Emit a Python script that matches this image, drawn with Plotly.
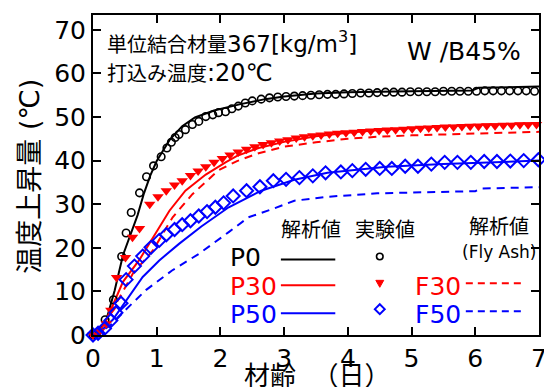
import plotly.graph_objects as go

# ---------------- data ----------------
t_p0_calc = [0, 0.1, 0.21, 0.34, 0.47, 0.6, 0.7, 0.8, 0.9, 1.0, 1.2, 1.4, 1.6, 1.9, 2.3, 2.7, 3.0, 3.5, 4.0, 5.0, 5.95, 6.05, 7.0]
p0_calc = [0, 1.0, 3.5, 10.2, 18.3, 23.4, 27.5, 32.5, 36.6, 39.9, 44.7, 47.9, 49.9, 51.5, 52.9, 54.1, 54.7, 55.4, 55.7, 55.9, 56.1, 56.7, 57.0]

t_p0_exp = [0, 0.06, 0.19, 0.32, 0.45, 0.52, 0.60, 0.73, 0.84, 0.95,
            1.07, 1.16, 1.23, 1.29, 1.35, 1.45, 1.56, 1.66, 1.77, 1.88,
            1.97, 2.08, 2.18, 2.28, 2.39, 2.50, 2.64, 2.77, 2.90, 3.03,
            3.16, 3.29, 3.42, 3.55, 3.68, 3.81, 3.94, 4.07, 4.20, 4.33,
            4.46, 4.59, 4.72, 4.85, 4.98, 5.11, 5.24, 5.37, 5.50, 5.63,
            5.76, 5.89, 6.02, 6.15, 6.28, 6.41, 6.54, 6.67, 6.80, 6.93]
p0_exp = [0, 0.4, 3.5, 8.1, 18.0, 23.4, 28.1, 32.6, 36.3, 38.8,
          40.9, 42.9, 44.2, 45.3, 46.0, 47.1, 48.3, 49.0, 50.1, 50.5,
          51.0, 51.2, 51.9, 52.5, 53.2, 53.7, 54.1, 54.4, 54.6, 54.7,
          54.8, 54.9, 55.0, 55.1, 55.2, 55.2, 55.3, 55.4, 55.5, 55.5,
          55.6, 55.7, 55.7, 55.7, 55.8, 55.8, 55.8, 55.8, 55.9, 55.9,
          55.9, 55.9, 55.9, 56.0, 56.0, 56.0, 56.0, 56.0, 56.0, 55.9]

t_p30_calc = [0, 0.1, 0.26, 0.47, 0.73, 0.94, 1.2, 1.45, 1.77, 2.08, 2.26, 2.6, 3.0, 3.5, 4.0, 4.5, 5.0, 5.5, 6.0, 7.0]
p30_calc = [0, 0.5, 5.1, 12.2, 17.3, 22.4, 28.5, 33.1, 36.8, 39.6, 41.1, 42.9, 44.3, 45.6, 46.4, 47.0, 47.5, 47.9, 48.2, 48.6]

t_f30_calc = [0, 0.1, 0.42, 0.63, 0.94, 1.25, 1.56, 1.97, 2.26, 2.6, 3.0, 3.5, 4.0, 4.5, 5.0, 6.0, 7.0]
f30_calc = [0, 0.8, 8.7, 14.2, 19.4, 27.0, 32.3, 37.8, 39.9, 41.7, 43.2, 44.2, 45.0, 45.5, 45.8, 46.2, 46.6]

t_p30_exp = [0, 0.10, 0.21, 0.28, 0.37, 0.51, 0.62, 0.73, 0.89, 1.02,
             1.15, 1.28, 1.40, 1.53, 1.65, 1.77, 1.90, 2.03, 2.15, 2.28,
             2.41, 2.54, 2.67, 2.80, 2.93, 3.06, 3.19, 3.32, 3.45, 3.58,
             3.71, 3.84, 3.97, 4.10, 4.23, 4.36, 4.49, 4.62, 4.75, 4.88,
             5.01, 5.14, 5.27, 5.40, 5.53, 5.66, 5.79, 5.92, 6.05, 6.18,
             6.31, 6.44, 6.57, 6.70, 6.83, 6.96]
p30_exp = [0, 0.8, 2.6, 5.7, 13.2, 17.8, 22.4, 24.4, 30.0, 31.7,
           33.1, 34.4, 35.4, 36.6, 37.6, 38.6, 39.6, 40.5, 41.3, 42.0,
           42.6, 43.2, 43.7, 44.1, 44.5, 44.8, 45.2, 45.5, 45.7, 45.9,
           46.1, 46.3, 46.4, 46.5, 46.7, 46.8, 46.9, 47.0, 47.1, 47.2,
           47.3, 47.4, 47.5, 47.6, 47.7, 47.7, 47.8, 47.9, 47.9, 48.0,
           48.0, 48.1, 48.1, 48.2, 48.2, 48.3]

t_p50_calc = [0, 0.1, 0.31, 0.52, 0.78, 1.04, 1.35, 1.7, 2.13, 2.64, 3.16, 3.68, 4.2, 4.61, 5.5, 6.0, 7.0]
p50_calc = [0, 0.6, 3.5, 7.9, 13.3, 17.1, 20.9, 24.9, 29.3, 33.1, 35.6, 37.2, 38.0, 38.6, 39.2, 39.5, 40.0]

t_f50_calc = [0, 0.1, 0.3, 0.5, 0.83, 1.24, 1.66, 1.92, 2.13, 2.44, 2.8, 3.16, 3.68, 4.46, 5.0, 6.0, 6.1, 7.0]
f50_calc = [0, 0.5, 2.5, 5.6, 10.3, 14.8, 18.6, 21.3, 23.6, 27.0, 28.8, 30.8, 31.7, 32.5, 32.7, 33.0, 33.6, 33.9]

t_p50_exp = [0, 0.08, 0.18, 0.28, 0.36, 0.44, 0.52, 0.65, 0.78, 0.91,
             1.04, 1.15, 1.28, 1.40, 1.53, 1.66, 1.79, 1.92, 2.05, 2.20,
             2.41, 2.62, 2.83, 3.03, 3.24, 3.45, 3.65, 3.89, 4.07, 4.28,
             4.50, 4.69, 4.90, 5.10, 5.31, 5.52, 5.72, 5.93, 6.14, 6.34,
             6.55, 6.76, 6.99]
p50_exp = [0, 0.4, 1.5, 3.3, 5.1, 7.3, 12.7, 15.8, 18.1, 20.1,
           21.7, 23.0, 24.2, 25.3, 26.2, 27.3, 28.3, 29.3, 30.3, 31.9,
           33.1, 34.0, 35.4, 35.7, 36.1, 36.5, 37.2, 37.4, 37.7, 38.0,
           38.2, 38.2, 38.7, 38.7, 39.2, 39.6, 39.6, 39.6, 39.8, 39.8,
           39.9, 40.0, 40.2]

x_ticks = [0, 1, 2, 3, 4, 5, 6, 7]
y_ticks = [0, 10, 20, 30, 40, 50, 60, 70]

BLACK = "#000000"
RED = "#ff0000"
BLUE = "#0000ff"
FONT = "DejaVu Sans, Noto Sans CJK JP"

# page body has an 8px margin: size the figure so it ends at the window edge
OFF = 8
W, H = 552 - OFF, 387 - OFF
L, R, T, B = 93 - OFF, 8, 13 - OFF, 52
PW, PH = W - L - R, H - T - B


def px(xp):  # page pixel -> paper
    return (xp - OFF - L) / PW


def py(yp):
    return (H - B - (yp - OFF)) / PH


fig = go.Figure()

# analysis lines
for tx, vy, col, dash in [
    (t_p0_calc, p0_calc, BLACK, "solid"),
    (t_p30_calc, p30_calc, RED, "solid"),
    (t_f30_calc, f30_calc, RED, "8px,6px"),
    (t_p50_calc, p50_calc, BLUE, "solid"),
    (t_f50_calc, f50_calc, BLUE, "8px,6px"),
]:
    fig.add_trace(go.Scatter(x=tx, y=vy, mode="lines",
                             line=dict(color=col, width=2, dash=dash),
                             showlegend=False, hoverinfo="skip"))

# experimental markers
fig.add_trace(go.Scatter(x=t_p0_exp, y=p0_exp, mode="markers", cliponaxis=False,
                         marker=dict(symbol="circle-open", size=7.5, color=BLACK, line=dict(width=1.6)),
                         showlegend=False))
fig.add_trace(go.Scatter(x=t_p30_exp, y=p30_exp, mode="markers", cliponaxis=False,
                         marker=dict(symbol="triangle-down", size=10, color=RED, line=dict(width=0)),
                         showlegend=False))
fig.add_trace(go.Scatter(x=t_p50_exp, y=p50_exp, mode="markers", cliponaxis=False,
                         marker=dict(symbol="diamond-open", size=10, color=BLUE, line=dict(width=2)),
                         showlegend=False))

ann = []


def text(x, y, s, size, color=BLACK, xanchor="left", **kw):
    ann.append(dict(x=px(x), y=py(y), xref="paper", yref="paper", text=s, showarrow=False,
                    xanchor=xanchor, yanchor="middle",
                    font=dict(family=FONT, size=size, color=color), **kw))


text(105, 40, '単位結合材量<span style="font-size:23px">367[kg/m<sup>3</sup>]</span>', 20)
text(105, 71, '打込み温度<span style="font-size:24px">:20℃</span>', 20)
text(408, 50, "W /B45%", 25)
text(281, 229, "解析値", 20)
text(356, 229, "実験値", 20)
text(471, 226, "解析値", 20)
text(464, 251, "(Fly Ash)", 17)
text(230, 257, "P0", 25)
text(230, 286, "P30", 25, RED)
text(230, 314, "P50", 25, BLUE)
text(417, 286, "F30", 25, RED)
text(417, 314, "F50", 25, BLUE)
# axis titles
text(29, 175, "温度上昇量 (℃)", 27, xanchor="center", textangle=-90)
text(320, 376, "材齢  （日）", 26, xanchor="center")

shapes = []


def hline(x0, x1, y, col, dash="solid"):
    shapes.append(dict(type="line", xref="paper", yref="paper", x0=px(x0), x1=px(x1), y0=py(y), y1=py(y),
                       line=dict(color=col, width=2, dash=dash)))


hline(283, 338, 259, BLACK)
hline(283, 338, 285, RED)
hline(283, 338, 313, BLUE)
hline(470, 528, 283, RED, "7px,5px")
hline(470, 528, 311, BLUE, "7px,5px")
# legend marker swatches
cx, cy, r = 383, 256, 3.3
shapes.append(dict(type="circle", xref="paper", yref="paper", x0=px(cx - r), x1=px(cx + r),
                   y0=py(cy + r), y1=py(cy - r), line=dict(color=BLACK, width=1.6)))


def path(points, fill, line_col, lw):
    d = "M " + " L ".join(f"{px(a):.5f},{py(b):.5f}" for a, b in points) + " Z"
    shapes.append(dict(type="path", xref="paper", yref="paper", path=d,
                       fillcolor=fill, line=dict(color=line_col, width=lw)))


path([(379, 280), (387, 280), (383, 287)], RED, RED, 1)
path([(383, 304), (388, 309), (383, 314), (378, 309)], "rgba(0,0,0,0)", BLUE, 2)

axis_common = dict(showline=True, linecolor=BLACK, linewidth=2, mirror="ticks", ticks="inside",
                   ticklen=8, tickwidth=2, tickcolor=BLACK, showgrid=False, zeroline=False,
                   tickfont=dict(family="DejaVu Sans", size=25, color=BLACK))

fig.update_layout(
    width=W, height=H,
    margin=dict(l=L, r=R, t=T, b=B),
    paper_bgcolor="white", plot_bgcolor="white",
    xaxis=dict(range=[0, 7], tickvals=x_ticks, **axis_common),
    yaxis=dict(range=[0, 73.4], tickvals=y_ticks, **axis_common),
    annotations=ann, shapes=shapes,
    showlegend=False,
)

fig.write_html("out.html")
